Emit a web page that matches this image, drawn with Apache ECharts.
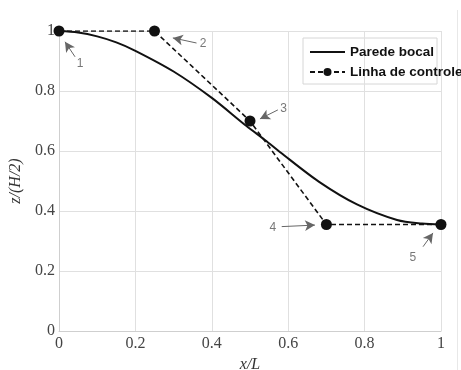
<!DOCTYPE html>
<html>
<head>
<meta charset="utf-8">
<script src="https://cdn.jsdelivr.net/npm/echarts@6/dist/echarts.min.js"></script>
<style>
  html, body { margin: 0; padding: 0; background: #fff; }
  #chart { width: 461px; height: 370px; }
</style>
</head>
<body>
<div id="chart"></div>
<script>
// nozzle wall profile
const wallX = [0, 0.05, 0.1, 0.15, 0.2, 0.3, 0.4, 0.49, 0.54, 0.58, 0.68, 0.78, 0.885, 0.95, 1];
const wallZ = [1, 0.995, 0.982, 0.962, 0.934, 0.865, 0.777, 0.684, 0.636, 0.595, 0.498, 0.422, 0.37, 0.358, 0.355];

// control polygon
const ctrlX = [0, 0.25, 0.5, 0.7, 1];
const ctrlZ = [1, 1, 0.7, 0.355, 0.355];

// callout numbers: label spot, arrow tail, arrow tip (data units)
const calloutText = ["1", "2", "3", "4", "5"];
const calloutLabel = [[0.055, 0.89], [0.377, 0.957], [0.588, 0.74], [0.56, 0.344], [0.926, 0.245]];
const calloutTail = [[0.042, 0.914], [0.36, 0.96], [0.573, 0.737], [0.583, 0.348], [0.953, 0.281]];
const calloutTip = [[0.0157, 0.964], [0.298, 0.977], [0.526, 0.707], [0.67, 0.353], [0.979, 0.327]];

const xTicks = [0, 0.2, 0.4, 0.6, 0.8, 1];
const yTicks = [0, 0.2, 0.4, 0.6, 0.8, 1];

const serif = "'Liberation Serif', 'DejaVu Serif', serif";
const sans = "'Liberation Sans', Arial, sans-serif";

const chart = echarts.init(document.getElementById("chart"));

const tickFmt = (v) => String(Math.round(v * 10) / 10);

chart.setOption({
  animation: false,
  grid: { left: 59, right: 20, top: 31, bottom: 39, outerBoundsMode: "none" },
  xAxis: {
    type: "value",
    min: xTicks[0],
    max: xTicks[xTicks.length - 1],
    interval: 0.2,
    name: "x/L",
    nameLocation: "middle",
    nameGap: 24,
    nameTextStyle: { fontFamily: serif, fontStyle: "italic", fontSize: 16, color: "#333" },
    axisLine: { show: true, lineStyle: { color: "#cfcfcf" } },
    axisTick: { show: false },
    axisLabel: { fontFamily: serif, fontSize: 16, color: "#444", margin: 5, formatter: tickFmt },
    splitLine: { show: true, lineStyle: { color: "#e0e0e0" } },
  },
  yAxis: {
    type: "value",
    min: yTicks[0],
    max: yTicks[yTicks.length - 1],
    interval: 0.2,
    name: "z/(H/2)",
    nameLocation: "middle",
    nameGap: 21,
    nameTextStyle: { fontFamily: serif, fontStyle: "italic", fontSize: 16, color: "#333" },
    axisLine: { show: true, lineStyle: { color: "#cfcfcf" } },
    axisTick: { show: false },
    axisLabel: { fontFamily: serif, fontSize: 16, color: "#444", margin: 4, formatter: tickFmt },
    splitLine: { show: true, lineStyle: { color: "#e0e0e0" } },
  },
  legend: {
    data: [
      { name: "Parede bocal", itemStyle: { opacity: 0 } },
      { name: "Linha de controle" },
    ],
    orient: "vertical",
    left: 309,
    top: 45,
    padding: 0,
    itemWidth: 35,
    itemHeight: 10,
    itemGap: 6,
    textStyle: { fontFamily: sans, fontWeight: "bold", fontSize: 13.5, color: "#111" },
  },
  graphic: [
    {
      type: "rect",
      shape: { x: 303, y: 38, width: 134, height: 46 },
      style: { fill: "#fff", stroke: "#d6d6d6", lineWidth: 1 },
      z: 0,
    },
    {
      type: "line",
      shape: { x1: 457.5, y1: 10, x2: 457.5, y2: 370 },
      style: { stroke: "#e8e8e8", lineWidth: 1 },
    },
  ],
  series: [
    {
      name: "Parede bocal",
      type: "line",
      data: wallX.map((x, i) => [x, wallZ[i]]),
      smooth: 0.3,
      showSymbol: false,
      symbol: "none",
      lineStyle: { color: "#111", width: 2 },
      itemStyle: { color: "#111" },
      z: 3,
    },
    {
      name: "Linha de controle",
      type: "line",
      data: ctrlX.map((x, i) => [x, ctrlZ[i]]),
      symbol: "circle",
      symbolSize: 11,
      lineStyle: { color: "#111", width: 1.6, type: [5, 3] },
      itemStyle: { color: "#111" },
      z: 4,
      markLine: {
        silent: true,
        symbol: ["none", "arrow"],
        symbolSize: [8, 10],
        label: { show: false },
        lineStyle: { color: "#666", width: 1, type: "solid" },
        data: calloutTail.map((t, i) => [
          { coord: t },
          { coord: calloutTip[i] },
        ]),
      },
    },
    {
      name: "callouts",
      type: "scatter",
      symbolSize: 0,
      silent: true,
      data: calloutLabel.map((p, i) => ({ value: p, name: calloutText[i] })),
      label: {
        show: true,
        position: "inside",
        formatter: (p) => p.name,
        fontFamily: sans,
        fontSize: 12,
        color: "#555",
      },
    },
  ],
});
</script>
</body>
</html>
